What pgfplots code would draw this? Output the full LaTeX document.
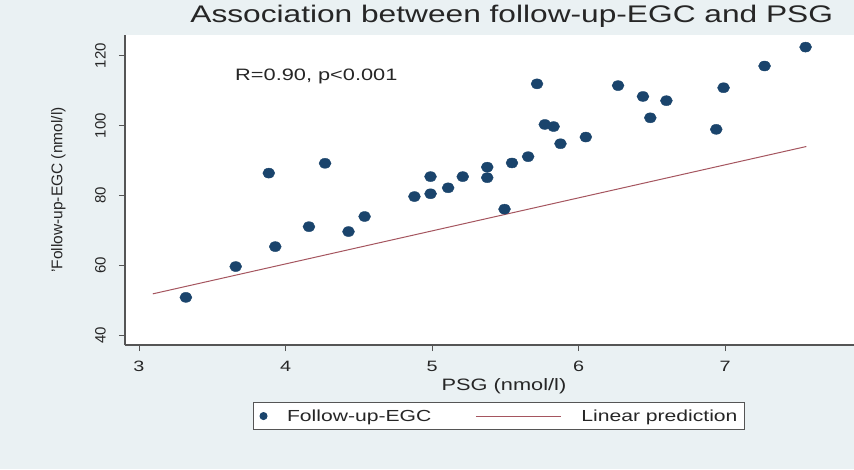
\documentclass[border=0pt]{standalone}
\usepackage{fontspec}
\setmainfont{Liberation Sans}
\newfontfamily\widefont[FakeStretch=1.32]{Liberation Sans}
\usepackage{pgfplots}
\pgfplotsset{compat=1.18}

\definecolor{bggray}{RGB}{234,241,243}
\definecolor{navy}{RGB}{26,68,108}
\definecolor{fitred}{RGB}{165,85,95}
\definecolor{axisgray}{RGB}{85,85,85}
\definecolor{txt}{RGB}{38,38,38}

\pgfplotsset{
    dotlegend/.style={legend image code/.code={%
        \draw[##1, mark size=3.5pt, mark options={xscale=1}] plot coordinates {(0pt,0pt)};}},
    linelegend/.style={legend image code/.code={%
        \draw[##1] (0pt,0pt) -- (85pt,0pt);}},
}

\begin{document}
\begin{tikzpicture}
\fill[bggray] (0,0) rectangle (854pt,469pt);
\begin{axis}[
    at={(125pt,124pt)}, anchor=south west,
    scale only axis, width=729pt, height=310pt,
    xmin=2.9044, xmax=7.8805, ymin=37.29, ymax=125.86,
    axis x line*=bottom, axis y line*=left,
    axis line style={-, draw=axisgray, line width=1.2pt},
    axis background/.style={fill=white},
    xtick={3,4,5,6,7}, ytick={40,60,80,100,120},
    tick align=outside, major tick length=6pt,
    tick style={draw=axisgray, line width=1pt},
    /pgf/number format/assume math mode=true,
    xticklabel style={font=\widefont\fontsize{15}{15}\selectfont, text=txt,
        anchor=north, inner sep=0pt, yshift=-10pt},
    yticklabel style={font=\fontsize{15}{15}\selectfont, text=txt,
        xshift=-13pt, rotate=90, anchor=south, inner sep=0pt},
    title={Association between follow-up-EGC and PSG},
    title style={at={(axis description cs:0.5305,1.021)}, anchor=base,
        font=\widefont\fontsize{24}{26}\selectfont, text=txt},
    xlabel={PSG (nmol/l)},
    xlabel style={at={(axis description cs:0.5199,-0.1452)}, anchor=base,
        font=\widefont\fontsize{16.5}{18}\selectfont, text=txt},
    ylabel={'Follow-up-EGC (nmol/l)},
    ylabel style={at={(axis description cs:-0.0860,0.5)}, anchor=base,
        font=\fontsize{15.5}{17}\selectfont, text=txt},
    legend columns=2,
    legend style={at={(axis description cs:0.1752,-0.1839)}, anchor=north west,
        draw=axisgray, line width=1pt, fill=white,
        inner xsep=6.8pt, inner ysep=7pt,
        font=\widefont\fontsize{16}{18}\selectfont, text=txt,
        nodes={inner sep=0pt},
        /tikz/every odd column/.append style={column sep=20pt},
        /tikz/every even column/.append style={column sep=44pt}},
]
\addplot[only marks, mark=*, color=navy, mark size=5pt,
    mark options={xscale=1.2}, dotlegend]
coordinates {
    (3.32,50.9) (3.66,59.7) (3.886,86.4) (3.93,65.4) (4.16,71.1)
    (4.27,89.2) (4.43,69.7) (4.54,74.0) (4.88,79.7) (4.99,85.4)
    (4.99,80.5) (5.11,82.2) (5.21,85.4) (5.377,88.1) (5.377,85.1)
    (5.495,76.1) (5.546,89.3) (5.656,91.1) (5.717,111.9) (5.77,100.3)
    (5.83,99.7) (5.877,94.8) (6.05,96.7) (6.27,111.4) (6.44,108.3)
    (6.49,102.2) (6.60,107.1) (6.94,98.9) (6.99,110.8) (7.27,117.0)
    (7.55,122.4)
};
\addlegendentry{Follow-up-EGC}
\addplot[fitred, line width=1pt, linelegend]
coordinates {(3.094,51.9) (7.555,94.0)};
\addlegendentry{Linear prediction}
\node[anchor=base west, inner sep=0pt, text=txt,
    font=\widefont\fontsize{16.5}{18}\selectfont]
    at (axis description cs:0.1509,0.8532) {R=0.90, p<0.001};
\end{axis}
\pgfresetboundingbox
\useasboundingbox (0,0) rectangle (854pt,469pt);
\end{tikzpicture}
\end{document}
